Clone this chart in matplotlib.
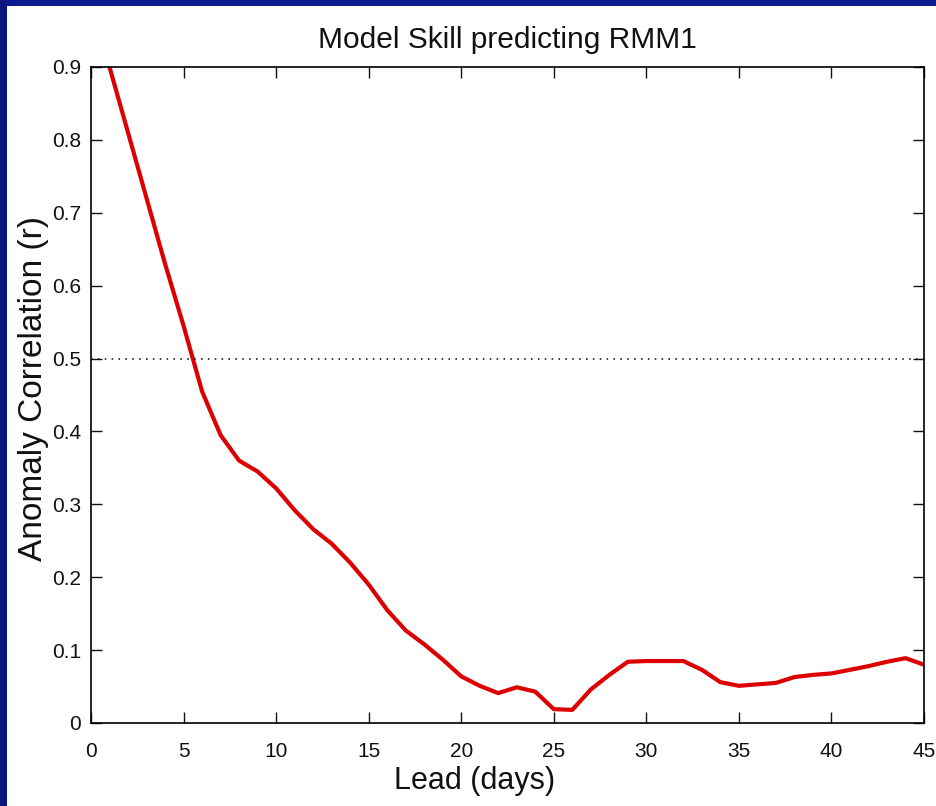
import matplotlib
matplotlib.use('Agg')
import matplotlib.pyplot as plt
from matplotlib.patches import Rectangle
import numpy as np

# Lead time (days) and anomaly correlation
lead_days = [1, 2, 3, 4, 5, 6, 7, 8, 9, 10,
             11, 12, 13, 14, 15, 16, 17, 18, 19, 20,
             21, 22, 23, 24, 25, 26, 27, 28, 29, 30,
             31, 32, 33, 34, 35, 36, 37, 38, 39, 40,
             41, 42, 43, 44, 45]
corr = [0.900, 0.810, 0.720, 0.630, 0.545, 0.455, 0.395, 0.360, 0.345, 0.322,
        0.292, 0.266, 0.246, 0.220, 0.190, 0.155, 0.127, 0.108, 0.087, 0.064,
        0.051, 0.041, 0.049, 0.043, 0.019, 0.018, 0.046, 0.066, 0.084, 0.085,
        0.085, 0.085, 0.073, 0.056, 0.051, 0.053, 0.055, 0.063, 0.066, 0.068,
        0.073, 0.078, 0.084, 0.089, 0.080]
threshold = 0.5
x_ticks = [0, 5, 10, 15, 20, 25, 30, 35, 40, 45]
y_ticks = [0, 0.1, 0.2, 0.3, 0.4, 0.5, 0.6, 0.7, 0.8, 0.9]
y_tick_labels = ['0', '0.1', '0.2', '0.3', '0.4', '0.5', '0.6', '0.7', '0.8', '0.9']

plt.rcParams['font.family'] = ['Liberation Sans', 'DejaVu Sans']

fig = plt.figure(figsize=(9.36, 8.06), dpi=100)
fig.patch.set_facecolor('white')

# blue slide border on top and left
fig.patches.append(Rectangle((0, 1 - 6 / 806), 1, 6 / 806, transform=fig.transFigure,
                             facecolor='#0b1a8e', edgecolor='none', zorder=0))
fig.patches.append(Rectangle((0, 0), 7 / 936, 1, transform=fig.transFigure,
                             facecolor='#0a1680', edgecolor='none', zorder=0))

ax = fig.add_axes([91 / 936, 1 - 723 / 806, (924 - 91) / 936, (723 - 67) / 806])

ax.plot(lead_days, corr, color='#dd0000', linewidth=3, solid_joinstyle='round')
ax.axhline(threshold, color='black', linestyle=(0, (1, 3.5)), linewidth=1.1)

ax.set_xlim(0, 45)
ax.set_ylim(0, 0.9)
ax.set_xticks(x_ticks)
ax.set_yticks(y_ticks)
ax.set_yticklabels(y_tick_labels)
ax.tick_params(direction='in', length=8, width=1, top=True, right=True,
               labelsize=15, colors='#111111')
ax.tick_params(axis='x', pad=14)
ax.tick_params(axis='y', pad=7)
for spine in ax.spines.values():
    spine.set_linewidth(1.2)

ax.set_title('Model Skill predicting RMM1', fontsize=21.5, pad=14, color='#111111')
ax.set_xlabel('Lead (days)', fontsize=22, color='#111111')
ax.xaxis.set_label_coords(0.461, -0.065)
ax.set_ylabel('Anomaly Correlation (r)', fontsize=24, color='#111111')
ax.yaxis.set_label_coords(-0.05, 0.51)

fig.savefig('out.png', dpi=100, facecolor=fig.get_facecolor())
